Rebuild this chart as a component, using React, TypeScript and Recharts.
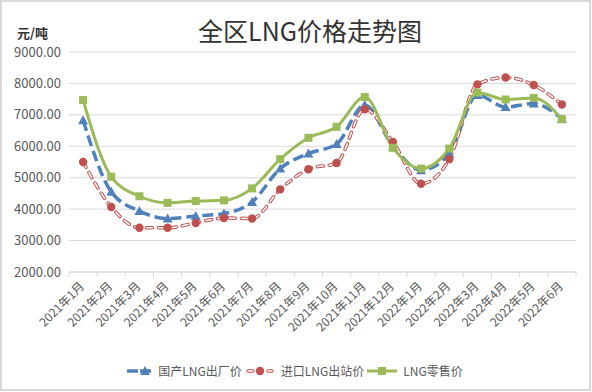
import React from 'react';
import { LineChart, Line, XAxis, YAxis, CartesianGrid } from 'recharts';

const categories = [
  '2021年1月', '2021年2月', '2021年3月', '2021年4月', '2021年5月', '2021年6月',
  '2021年7月', '2021年8月', '2021年9月', '2021年10月', '2021年11月', '2021年12月',
  '2022年1月', '2022年2月', '2022年3月', '2022年4月', '2022年5月', '2022年6月',
];
const domestic = [6830, 4550, 3940, 3700, 3780, 3860, 4230, 5290, 5770, 6070, 7310, 6000, 5240, 5760, 7630, 7250, 7360, 6870];
const imported = [5500, 4070, 3410, 3410, 3560, 3720, 3700, 4630, 5270, 5470, 7180, 6140, 4810, 5590, 7970, 8190, 7950, 7330];
const retail = [7470, 5030, 4410, 4200, 4260, 4280, 4660, 5590, 6270, 6620, 7570, 5950, 5290, 5930, 7710, 7490, 7540, 6860];
const seriesNames = ['国产LNG出厂价', '进口LNG出站价', 'LNG零售价'];
const yTicks = [2000, 3000, 4000, 5000, 6000, 7000, 8000, 9000];
const chartTitle = '全区LNG价格走势图';
const unitLabel = '元/吨';

const data = categories.map((c, i) => ({
  month: c,
  domestic: domestic[i],
  imported: imported[i],
  retail: retail[i],
}));

const BLUE = '#4F81BD';
const RED = '#C0504D';
const GREEN = '#9BBB59';
const GRID = '#D9D9D9';
const TEXT = '#595959';
const FONT = '"Noto Sans CJK SC", "Noto Sans", sans-serif';

const TriangleDot = (props: any) => {
  const { cx, cy, index } = props;
  if (cx == null || cy == null) return null;
  return <path key={`t${index}`} d={`M${cx},${cy - 5}L${cx + 5},${cy + 4}L${cx - 5},${cy + 4}Z`} fill={BLUE} />;
};
const CircleDot = (props: any) => {
  const { cx, cy, index } = props;
  if (cx == null || cy == null) return null;
  return <circle key={`c${index}`} cx={cx} cy={cy} r={4.2} fill={RED} />;
};
const SquareDot = (props: any) => {
  const { cx, cy, index } = props;
  if (cx == null || cy == null) return null;
  return <rect key={`s${index}`} x={cx - 4} y={cy - 4} width={8} height={8} fill={GREEN} />;
};

const XTick = (props: any) => {
  const { x, y, payload, index } = props;
  const off = payload && payload.offset ? payload.offset : 0;
  const isLast = index === categories.length - 1;
  const tx = x + 2;
  const ty = y + 15;
  return (
    <g>
      <line x1={x - off} y1={y} x2={x - off} y2={y + 5} stroke={GRID} />
      {isLast && <line x1={x + off} y1={y} x2={x + off} y2={y + 5} stroke={GRID} />}
      <text x={tx} y={ty} textAnchor="end" fill={TEXT} fontSize={12} fontFamily={FONT} transform={`rotate(-45 ${tx} ${ty})`}>
        {payload.value}
      </text>
    </g>
  );
};

const LegendContent = () => {
  const icons = [
    <svg width={26} height={12} key="b">
      <line x1={1} y1={6} x2={12} y2={6} stroke={BLUE} strokeWidth={3.5} />
      <path d="M19,1L24,10L14,10Z" fill={BLUE} />
      <line x1={14} y1={6} x2={25} y2={6} stroke={BLUE} strokeWidth={3.5} />
    </svg>,
    <svg width={30} height={12} key="r">
      <line x1={3} y1={6} x2={8} y2={6} stroke={RED} strokeWidth={3.5} strokeLinecap="round" />
      <line x1={3} y1={6} x2={8} y2={6} stroke="#fff" strokeWidth={1.5} strokeLinecap="round" />
      <circle cx={15} cy={6} r={4.2} fill={RED} />
      <line x1={23} y1={6} x2={27} y2={6} stroke={RED} strokeWidth={3.5} strokeLinecap="round" />
      <line x1={23} y1={6} x2={27} y2={6} stroke="#fff" strokeWidth={1.5} strokeLinecap="round" />
    </svg>,
    <svg width={30} height={12} key="g">
      <line x1={0} y1={6} x2={30} y2={6} stroke={GREEN} strokeWidth={3} />
      <rect x={11} y={2} width={8} height={8} fill={GREEN} />
    </svg>,
  ];
  return (
    <div style={{ display: 'flex', justifyContent: 'center', alignItems: 'center', fontFamily: FONT, fontSize: 12, color: TEXT }}>
      {seriesNames.map((n, i) => (
        <div key={n} style={{ display: 'flex', alignItems: 'center', marginRight: 3 }}>
          {icons[i]}
          <span style={{ marginLeft: 6 }}>{n}</span>
        </div>
      ))}
    </div>
  );
};

export default function App() {
  return (
    <div style={{ position: 'absolute', left: 0, top: 0, width: 592, height: 392, background: '#fff', fontFamily: FONT }}>
      <div style={{ position: 'absolute', left: 0, top: 0, width: 591, height: 391, border: '2px solid #D9D9D9', boxSizing: 'border-box' }} />
      <div style={{ position: 'absolute', left: 310, top: 15, transform: 'translateX(-50%)', fontSize: 25, lineHeight: '30px', color: '#333', whiteSpace: 'nowrap' }}>
        {chartTitle}
      </div>
      <div style={{ position: 'absolute', left: 17, top: 24, fontSize: 13, lineHeight: '18px', fontWeight: 700, color: '#333' }}>
        {unitLabel}
      </div>
      <div style={{ position: 'absolute', left: 0, top: 362, width: 592 }}>
        <LegendContent />
      </div>
      <div style={{ position: 'absolute', left: 0, top: 0 }}>
        <LineChart width={592} height={392} data={data} margin={{ top: 52, right: 16, bottom: 0, left: 0 }}>
          <CartesianGrid vertical={false} stroke={GRID} />
          <XAxis
            dataKey="month"
            scale="band"
            interval={0}
            height={120}
            axisLine={{ stroke: GRID }}
            tickLine={false}
            tickSize={0}
            tickMargin={0}
            tick={<XTick />}
          />
          <YAxis
            domain={[2000, 9000]}
            ticks={yTicks}
            width={69}
            axisLine={false}
            tickLine={false}
            tickSize={0}
            tickMargin={8}
            tickFormatter={(v: number) => v.toFixed(2)}
            tick={{ fill: TEXT, fontSize: 13, fontFamily: FONT }}
          />
          <Line type="monotone" dataKey="domestic" name={seriesNames[0]} stroke={BLUE} strokeWidth={3.5} strokeDasharray="11 5" dot={<TriangleDot />} activeDot={false} isAnimationActive={false} />
          <Line type="monotone" dataKey="imported" name={seriesNames[1]} stroke={RED} strokeWidth={3.5} strokeLinecap="round" strokeDasharray="6 6" dot={false} activeDot={false} isAnimationActive={false} />
          <Line type="monotone" dataKey="imported" legendType="none" stroke="#fff" strokeWidth={1.5} strokeLinecap="round" strokeDasharray="6 6" dot={<CircleDot />} activeDot={false} isAnimationActive={false} />
          <Line type="monotone" dataKey="retail" name={seriesNames[2]} stroke={GREEN} strokeWidth={3} dot={<SquareDot />} activeDot={false} isAnimationActive={false} />
        </LineChart>
      </div>
    </div>
  );
}
